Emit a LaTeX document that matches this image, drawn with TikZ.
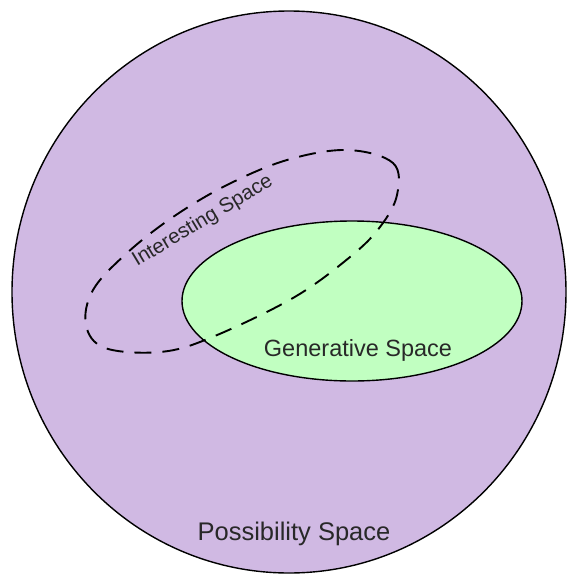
\documentclass[tikz,border=0pt]{standalone}
\usepackage{fontspec}
\setmainfont{Liberation Sans}
\usepackage{tikz}
\usetikzlibrary{positioning}
\usepackage{xcolor}
\definecolor{lavender}{RGB}{208,185,227}
\definecolor{mint}{RGB}{193,255,193}
\definecolor{inkgrey}{RGB}{40,40,40}

\tikzset{
  region/.style={draw=black, line width=1.4pt},
  dashregion/.style={draw=black, line width=1.9pt, dash pattern=on 17pt off 11pt},
  spacelabel/.style={text=inkgrey, inner sep=0pt}
}

\begin{document}
\begin{tikzpicture}[x=1pt, y=-1pt]
  \useasboundingbox (0,0) rectangle (567,574);
  % Possibility space
  \fill[white] (0,0) rectangle (567,574);
  \path[region, fill=lavender] (289,292) ellipse [x radius=277, y radius=281];
  % Generative space
  \path[region, fill=mint] (352,301) ellipse [x radius=170, y radius=80];
  % Interesting space (dashed outline)
  \draw[dashregion] plot[smooth cycle, tension=0.6] coordinates {
    (347,150) (393,163) (397,195) (380,227) (350,257) (293,298)
    (210,338) (160,352) (105,348) (86,325) (93,290) (127,253)
    (173,217) (227,185) (287,160)};
  % Labels
  \node[spacelabel, anchor=base, font=\fontsize{23.5}{28}\selectfont] (gen) at (358,356) {Generative Space};
  \node[spacelabel, anchor=base, font=\fontsize{25.5}{30}\selectfont] (poss) at (294,540) {Possibility Space};
  \node[spacelabel, anchor=base west, rotate=31, font=\fontsize{20.5}{24}\selectfont] (inter) at (137,267) {Interesting Space};
\end{tikzpicture}
\end{document}
